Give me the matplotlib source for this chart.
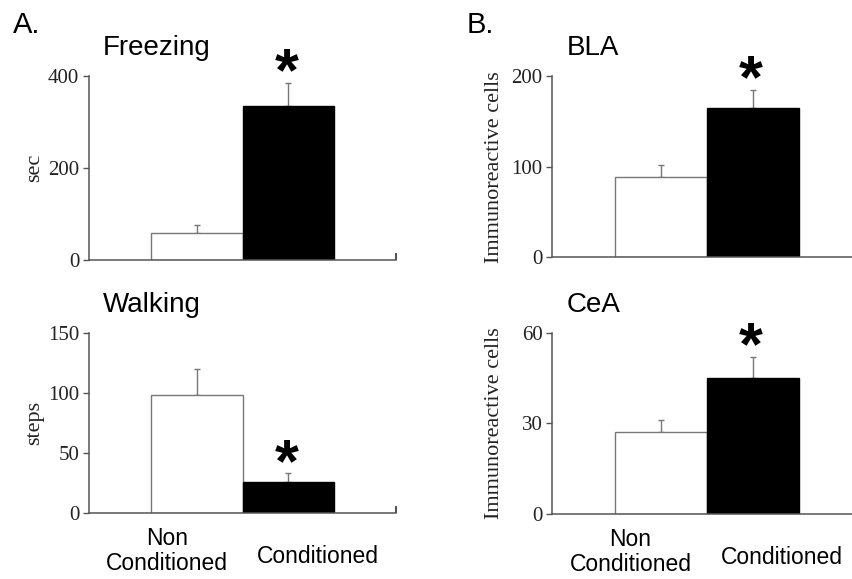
import numpy as np
import matplotlib.pyplot as plt
from matplotlib import transforms

groups = ['Non\nConditioned', 'Conditioned']
freezing = [58, 335]
freezing_err = [18, 50]
walking = [98, 26]
walking_err = [22, 7]
bla = [89, 165]
bla_err = [13, 20]
cea = [27, 45]
cea_err = [4, 7]

W, H = 853, 579
fig = plt.figure(figsize=(W/100, H/100), dpi=100)

SANS = 'Liberation Sans'
SERIF = 'Liberation Serif'
GREY = '#555555'


def px_axes(left, right, bottom, top):
    return fig.add_axes([left/W, 1-bottom/H, (right-left)/W, (bottom-top)/H])


def panel(ax, vals, errs, ymax, yticks, ylabel, labx, star, xlabels=False):
    x = np.arange(len(vals))
    ax.bar(x, vals, width=1.0, color=['white', 'black'],
           edgecolor=['#777777', 'black'], linewidth=1.0, zorder=2)
    ax.errorbar(x, vals, yerr=[[0]*len(errs), errs], fmt='none',
                ecolor='#777777', elinewidth=1.0, capsize=2, capthick=1.0, zorder=1)
    ax.set_xlim(-1.18, 2.18)
    ax.set_ylim(0, ymax)
    for s in ['top', 'right']:
        ax.spines[s].set_visible(False)
    for s in ['left', 'bottom']:
        ax.spines[s].set_color(GREY)
        ax.spines[s].set_linewidth(1.1)
    ax.set_yticks(yticks)
    ax.set_yticklabels([str(t) for t in yticks], fontfamily=SERIF, fontsize=15, color='#222222')
    ax.tick_params(axis='y', direction='out', length=4, width=1.0, color=GREY, pad=3)
    ax.set_xticks([2.18])
    ax.tick_params(axis='x', direction='in', length=5, width=1.5, color=GREY, labelbottom=False)
    ax.set_ylabel(ylabel, fontfamily=SERIF, fontsize=16, color='#222222')
    ax.yaxis.set_label_coords(labx, 0.5)
    if star is not None:
        off = transforms.ScaledTranslation(0, 0.08, fig.dpi_scale_trans)
        top = vals[star] + errs[star]
        ax.text(star - 0.02, top, '*', transform=ax.transData + off, ha='center', va='center',
                fontfamily=SANS, fontweight='bold', fontsize=44, clip_on=False)
    if xlabels:
        ax.annotate(groups[0], xy=(-0.33, 0), xycoords=('data', 'axes fraction'),
                    xytext=(0, -10), textcoords='offset points', ha='center', va='top',
                    fontfamily=SANS, fontsize=16.5, linespacing=1.12)
        ax.annotate(groups[1], xy=(1.32, 0), xycoords=('data', 'axes fraction'),
                    xytext=(0, -23), textcoords='offset points', ha='center', va='top',
                    fontfamily=SANS, fontsize=16.5)


a1 = px_axes(89, 396.4, 260, 76)
panel(a1, freezing, freezing_err, 400, [0, 200, 400], 'sec', -0.145, 1)
a2 = px_axes(89, 396.4, 512.7, 333.3)
panel(a2, walking, walking_err, 150, [0, 50, 100, 150], 'steps', -0.145, 1, xlabels=True)
b1 = px_axes(552.3, 861.3, 257.3, 76)
panel(b1, bla, bla_err, 200, [0, 100, 200], 'Immunoreactive cells', -0.155, 1)
b2 = px_axes(552.3, 861.3, 514, 332.7)
panel(b2, cea, cea_err, 60, [0, 30, 60], 'Immunoreactive cells', -0.155, 1, xlabels=True)


def ftext(x, y, s, size):
    fig.text(x/W, 1-y/H, s, fontfamily=SANS, fontsize=size, va='baseline', ha='left')


ftext(13, 33, 'A.', 21)
ftext(466.7, 33, 'B.', 21)
ftext(103, 55, 'Freezing', 20)
ftext(103, 311.7, 'Walking', 20)
ftext(566.7, 55, 'BLA', 20)
ftext(566.7, 311.7, 'CeA', 20)

fig.savefig('out.png', dpi=100)
